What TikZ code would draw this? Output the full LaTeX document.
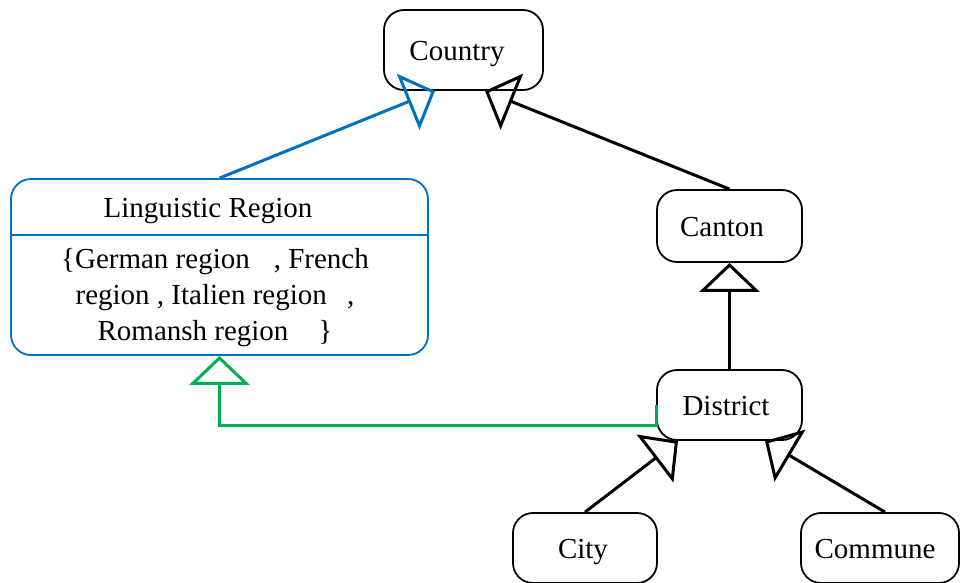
\documentclass[tikz,border=0pt]{standalone}
\usepackage{fontspec}
\setmainfont{Liberation Serif}
\usetikzlibrary{arrows.meta,calc}
\definecolor{regionblue}{RGB}{0,112,192}
\definecolor{linkgreen}{RGB}{0,176,80}
\begin{document}
\begin{tikzpicture}[x=1pt,y=-1pt,
  box/.style={draw=black, line width=1.8pt, rounded corners=20pt,
    inner sep=0pt, text height=20pt, text depth=0pt,
    font=\fontsize{29}{36}\selectfont},
  plain/.style={inner sep=0pt, font=\fontsize{29}{36}\selectfont},
  gen/.style={line width=3pt,
    -{Triangle[open,length=29pt,width=60pt]}}]
  \useasboundingbox (0,0) rectangle (960,582);
  \clip (0,0) rectangle (960,582);

  % class boxes
  \node[box, minimum width=159pt, minimum height=80pt] (country) at (463.5,50) {Country\hspace*{13pt}};
  \node[box, minimum width=145pt, minimum height=72pt] (canton) at (729.5,226) {Canton\hspace*{15pt}};
  \node[box, minimum width=145pt, minimum height=70pt] (district) at (729.5,405) {District\hspace*{7pt}};
  \node[box, minimum width=144pt, minimum height=70pt] (city) at (585,548) {City\hspace*{4pt}};
  \node[box, minimum width=158pt, minimum height=70pt] (commune) at (880,548) {Commune\hspace*{10pt}};

  % enumeration box with a name compartment
  \node[draw=regionblue, line width=1.8pt, rounded corners=20pt,
    minimum width=417pt, minimum height=176pt, inner sep=0pt] (lr) at (219.5,267) {};
  \draw[regionblue, line width=1.8pt]
    ($(lr.north west)+(0,57)$) -- ($(lr.north east)+(0,57)$);
  \node[plain, text height=20pt, text depth=0pt] (lrname) at (208,207) {Linguistic Region};
  \node[plain, align=center] (lrvals) at (215,298)
    {\{German region\hspace{24pt}, French\\
     region , Italien region\hspace{13pt} ,\\
     Romansh region\hspace{30pt}\}};

  % attachment points of the generalization arrows
  \coordinate (ctyL) at ($(country.south)+(-28.5,0)$);
  \coordinate (ctyR) at ($(country.south)+(21.5,0)$);
  \coordinate (dstL) at ($(district.south)+(-51.5,0)$);
  \coordinate (dstR) at ($(district.south)+(35.5,0)$);
  \coordinate (comTop) at ($(commune.north)+(5,0)$);

  % generalizations
  \draw[gen, regionblue] (lr.north) -- (ctyL);
  \draw[gen] (canton.north) -- (ctyR);
  \draw[gen] (district.north) -- (canton.south);
  \draw[gen] (city.north) -- (dstL);
  \draw[gen] (comTop) -- (dstR);
  \draw[gen, linkgreen] (district.west) -- ++(0,20) -| (lr.south);
\end{tikzpicture}
\end{document}
